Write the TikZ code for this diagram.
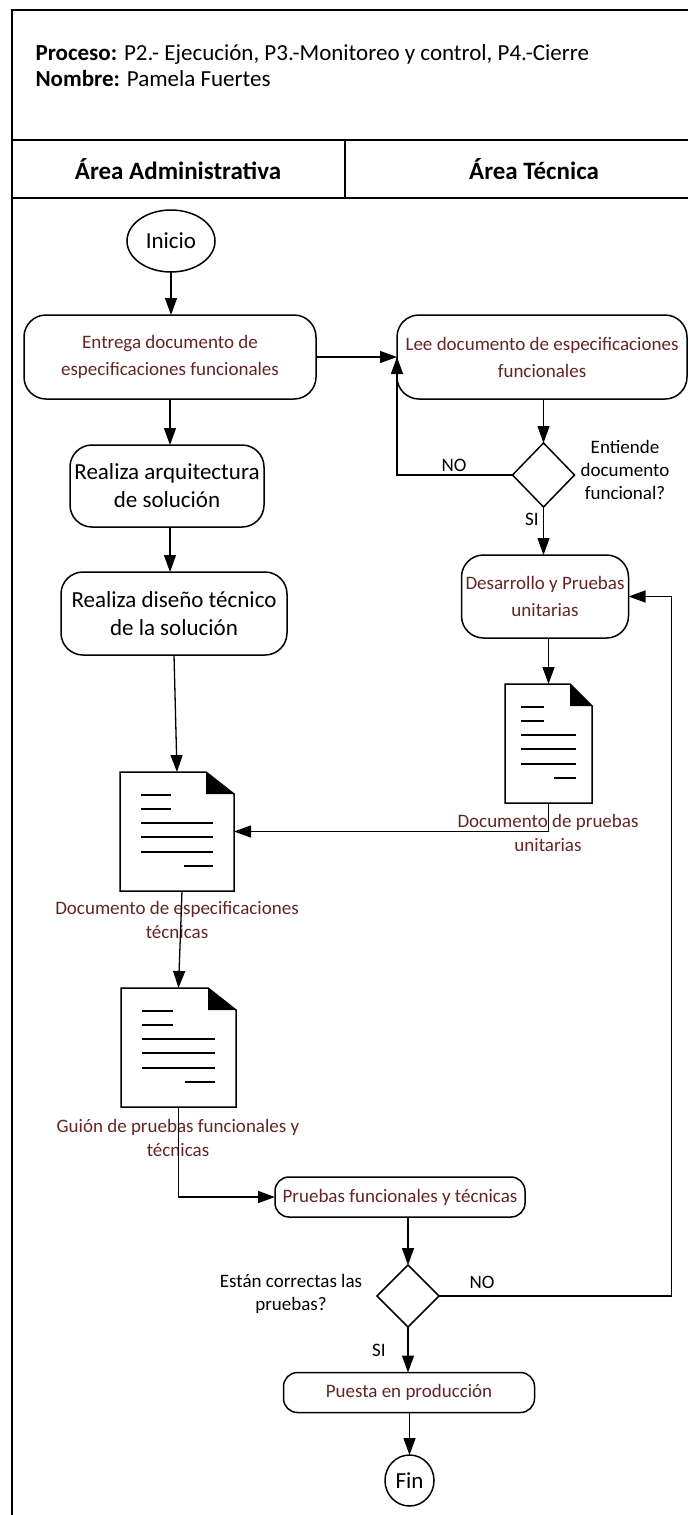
\documentclass[tikz,border=0pt]{standalone}
\usepackage{fontspec}
\setmainfont{Carlito}
\usetikzlibrary{arrows.meta,shapes.geometric,calc}
\definecolor{brownred}{RGB}{99,37,35}

% document symbol with folded corner: node name, width, fold width
\newcommand\docicon[3]{%
  \draw[line width=1.5pt, line join=miter]
    (#1.north west) -- ([xshift={-#3}]#1.north east) -- ([yshift=-22]#1.north east)
    -- (#1.south east) -- (#1.south west) -- cycle;
  \fill ([xshift={-#3}]#1.north east) -- ([xshift={-#3},yshift=-22]#1.north east)
    -- ([yshift=-22]#1.north east) -- cycle;
  \foreach \xa/\xb/\yy in {0.184/0.45/23,0.184/0.45/37,0.184/0.816/51,
                           0.184/0.816/65,0.184/0.816/80,0.56/0.816/94}
    \draw[line width=2.6pt]
      ([xshift={\xa*#2},yshift={-\yy}]#1.north west) --
      ([xshift={\xb*#2},yshift={-\yy}]#1.north west);
}

\begin{document}
\begin{tikzpicture}[x=1pt, y=-1pt,
  frameline/.style={line width=1.4pt},
  procbox/.style={draw, line width=1.5pt, rounded corners=22pt, inner sep=0pt,
                  outer sep=0pt, align=center},
  smallbox/.style={procbox, rounded corners=14pt},
  btext/.style={text=brownred, font=\fontsize{19}{27}\selectfont},
  ktext/.style={font=\fontsize{23}{28}\selectfont},
  terminal/.style={draw, ellipse, line width=1.5pt, inner sep=0pt, outer sep=0pt,
                   font=\fontsize{23}{28}\selectfont},
  decision/.style={draw, diamond, line width=1.5pt, inner sep=0pt, outer sep=0pt},
  docnode/.style={inner sep=0pt, outer sep=0pt},
  lbl/.style={font=\fontsize{19}{23}\selectfont, align=center},
  doclbl/.style={text=brownred, font=\fontsize{19}{24}\selectfont, align=center},
  flow/.style={line width=1.3pt, -{Triangle[length=17pt,width=12pt]}},
  link/.style={line width=1.3pt}]

\useasboundingbox (0,0) rectangle (688,1515);

% frame and header
\draw[frameline] (12,1515) -- (12,10) -- (688,10);
\draw[frameline] (12,140) -- (688,140);
\draw[frameline] (12,198) -- (688,198);
\draw[frameline] (345,140) -- (345,198);

\node[anchor=west, align=left, font=\fontsize{23}{26}\selectfont] (head) at (32,66)
  {\textbf{Proceso:} P2.- Ejecución, P3.-Monitoreo y control, P4.-Cierre\\
   \textbf{Nombre:} Pamela Fuertes};
\node[font=\bfseries\fontsize{25}{28}\selectfont] (laneA) at (178,169) {Área Administrativa};
\node[font=\bfseries\fontsize{25}{28}\selectfont] (laneT) at (534,169) {Área Técnica};

% flow nodes
\node[terminal, minimum width=88, minimum height=62] (inicio) at (171,241) {Inicio};
\node[procbox, btext, minimum width=292, minimum height=84] (entrega) at (170,357)
  {Entrega documento de\\especificaciones funcionales};
\node[procbox, btext, minimum width=290, minimum height=84] (lee) at (542,357)
  {Lee documento de especificaciones\\funcionales};
\node[decision, minimum width=62, minimum height=64] (d1) at (543.5,475) {};
\node[lbl] (q1) at (625,470) {Entiende\\documento\\funcional?};
\node[lbl] (no1) at (454,465) {NO};
\node[lbl] (si1) at (532,519) {SI};

\node[procbox, ktext, minimum width=194, minimum height=82] (arq) at (167,486)
  {Realiza arquitectura\\de solución};
\node[procbox, ktext, minimum width=226, minimum height=83] (diseno) at (174,613.5)
  {Realiza diseño técnico\\de la solución};
\node[procbox, btext, minimum width=167, minimum height=83] (desarrollo) at (545,596.5)
  {Desarrollo y Pruebas\\unitarias};

\node[docnode, minimum width=87, minimum height=119] (docR) at (548.5,743.5) {};
\node[doclbl] (docRl) at (548,833) {Documento de pruebas\\unitarias};
\node[docnode, minimum width=114, minimum height=119] (docL) at (177,831.5) {};
\node[doclbl] (docLl) at (177,920) {Documento de especificaciones\\técnicas};
\node[docnode, minimum width=115, minimum height=119] (docG) at (178.5,1047.5) {};
\node[doclbl] (docGl) at (178,1138) {Guión de pruebas funcionales y\\técnicas};

\node[smallbox, btext, minimum width=250, minimum height=40] (pruebas) at (400,1197)
  {Pruebas funcionales y técnicas};
\node[decision, minimum width=62, minimum height=62] (d2) at (408,1296) {};
\node[lbl] (q2) at (291,1294) {Están correctas las\\pruebas?};
\node[lbl] (no2) at (482,1282) {NO};
\node[lbl] (si2) at (379,1350) {SI};
\node[smallbox, btext, minimum width=251, minimum height=40] (puesta) at (409,1392.5)
  {Puesta en producción};
\node[terminal, minimum width=49, minimum height=51] (fin) at (409.5,1480.5) {Fin};

\docicon{docR}{87}{22}
\docicon{docL}{114}{28}
\docicon{docG}{115}{28}

\coordinate (loop) at ($(desarrollo.east)+(43,0)$);

% connectors
\draw[flow] (inicio.south) -- (inicio.south |- entrega.north);
\draw[flow] (entrega.east) -- (lee.west);
\draw[flow] (d1.north |- lee.south) -- (d1.north);
\draw[flow] (d1.west) -| (lee.west);
\draw[flow] (d1.south) -- (d1.south |- desarrollo.north);
\draw[flow] (entrega.south) -- (entrega.south |- arq.north);
\draw[flow] (entrega.south |- arq.south) -- (entrega.south |- diseno.north);
\draw[flow] (diseno.south) -- (docL.north);
\draw[flow] (docR.north |- desarrollo.south) -- (docR.north);
\draw[flow] (docR.south) |- (docL.east);
\draw[flow] ([xshift=5pt]docL.south) -- (docG.north);
\draw[flow] (docG.south) |- (pruebas.west);
\draw[flow] (d2.north |- pruebas.south) -- (d2.north);
\draw[flow] (d2.east) -| (loop) -- (desarrollo.east);
\draw[flow] (d2.south) -- (d2.south |- puesta.north);
\draw[flow] (puesta.south -| fin.north) -- (fin.north);

\end{tikzpicture}
\end{document}
